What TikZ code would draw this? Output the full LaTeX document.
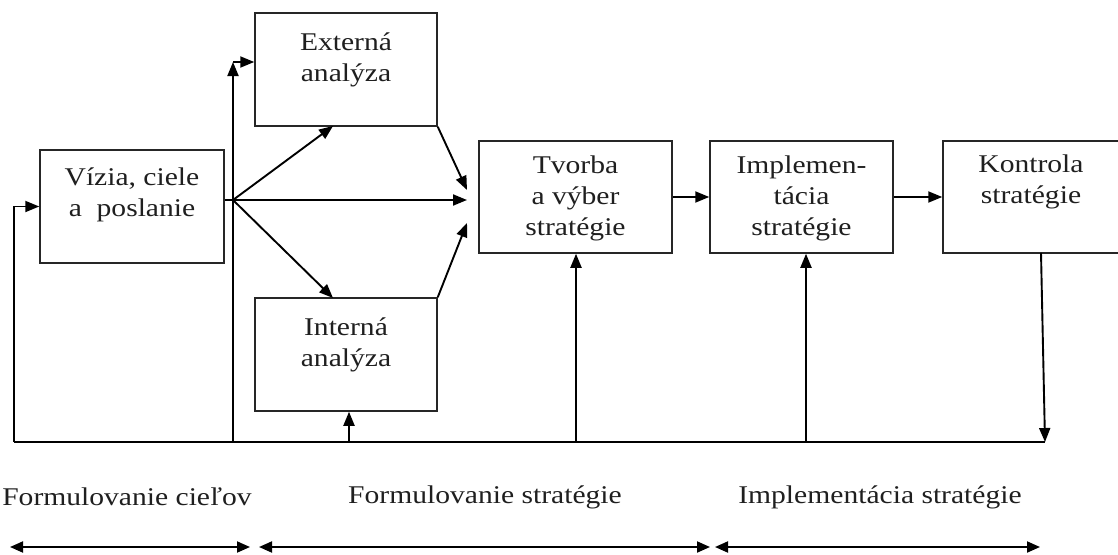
\documentclass[tikz,border=0pt]{standalone}
\usepackage{fontspec}
\setmainfont{Liberation Serif}[FakeStretch=1.16]
\usetikzlibrary{arrows.meta}
\begin{document}
\begin{tikzpicture}[x=1pt,y=-1pt,
  box/.style={draw=black!85, line width=1.5pt, rectangle, inner sep=0pt},
  txt/.style={align=center, inner sep=0pt, font=\fontsize{25.5}{31}\selectfont, text=black!88},
  lbl/.style={inner sep=0pt, font=\fontsize{25.5}{31}\selectfont, text=black!88},
  conn/.style={draw=black, line width=1.9pt},
  arr/.style={conn, -{Triangle[length=14pt,width=11pt]}},
  darr/.style={conn, {Triangle[length=13pt,width=11pt]}-{Triangle[length=13pt,width=11pt]}}]
\useasboundingbox (0,0) rectangle (1118,554);
\fill[white] (0,0) rectangle (1118,554);

% boxes
\node[box, minimum width=184pt, minimum height=113pt] (viz) at (132,206.5) {};
\node[box, minimum width=182pt, minimum height=113pt] (ext) at (346,69.5) {};
\node[box, minimum width=182pt, minimum height=113pt] (int) at (346,354.5) {};
\node[box, minimum width=193pt, minimum height=112pt] (tvo) at (575.5,197) {};
\node[box, minimum width=183pt, minimum height=112pt] (imp) at (801.5,197) {};
\node[box, minimum width=179pt, minimum height=112pt] (kon) at (1032.5,197) {};

% box texts
\node[txt] (tviz) at (132,195) {Vízia, ciele\\a~ poslanie};
\node[txt] (text) at (346,60) {Externá\\analýza};
\node[txt] (tint) at (346,345) {Interná\\analýza};
\node[txt] (ttvo) at (575.5,198) {Tvorba\\a výber\\stratégie};
\node[txt] (timp) at (801.5,198) {Implemen-\\tácia\\stratégie};
\node[txt] (tkon) at (1031,182) {Kontrola\\stratégie};

% coordinates
\coordinate (bl) at (14,442);
\coordinate (br) at (1045,442);
\coordinate (b0) at (233,442);
\coordinate (ctop) at (233,62);
\coordinate (b1) at (349,442);
\coordinate (b2) at (576,442);
\coordinate (b3) at (806,442);
\coordinate (konout) at (1041,253);
\coordinate (fork) at (233,200);
\coordinate (extin) at (333,126);
\coordinate (intin) at (333,298);
\coordinate (tin1) at (467,190);
\coordinate (tin2) at (467,200);
\coordinate (tin3) at (467,223);

% connectors
\draw[conn] (bl) -- (br);
\draw[arr] (bl) |- (viz.west);
\draw[arr] (konout) -- (br);
\draw[arr] (b0) -- (ctop);
\draw[arr] (ctop) -- (ctop -| ext.west);
\draw[arr] (b1) -- (b1 |- int.south);
\draw[arr] (b2) -- (b2 |- tvo.south);
\draw[arr] (b3) -- (b3 |- imp.south);
\draw[arr] (fork) -- (extin);
\draw[arr] (fork) -- (intin);
\draw[arr] (viz.east |- tin2) -- (tin2);
\draw[arr] (ext.south east) -- (tin1);
\draw[arr] (int.north east) -- (tin3);
\draw[arr] (tvo.east) -- (imp.west);
\draw[arr] (imp.east) -- (kon.west);

% phase labels
\node[lbl] (p1) at (127,497) {Formulovanie cieľov};
\node[lbl] (p2) at (485,497) {Formulovanie stratégie};
\node[lbl] (p3) at (880,497) {Implementácia stratégie};

\coordinate (a1) at (10,547);
\coordinate (a2) at (250,547);
\coordinate (a3) at (259,547);
\coordinate (a4) at (710,547);
\coordinate (a5) at (715,547);
\coordinate (a6) at (1040,547);
\draw[darr] (a1) -- (a2);
\draw[darr] (a3) -- (a4);
\draw[darr] (a5) -- (a6);
\end{tikzpicture}
\end{document}
